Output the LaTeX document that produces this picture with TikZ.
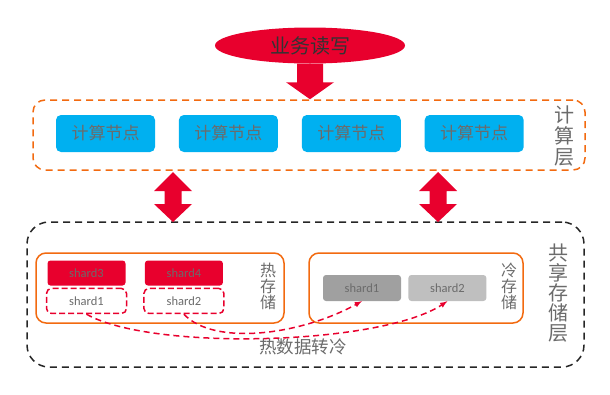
\documentclass[tikz,border=0pt]{standalone}
\usepackage{fontspec}
\setmainfont{Carlito}
\newfontfamily\cjk{Noto Sans CJK SC}
\usepackage{xcolor}
\usepackage{tikz}
\usetikzlibrary{calc,shapes,arrows,positioning}

\definecolor{hotred}{HTML}{E8002D}
\definecolor{skyblue}{HTML}{00B0F0}
\definecolor{layerorange}{HTML}{F26A10}
\definecolor{textgray}{HTML}{6B6B6B}
\definecolor{coldgray}{HTML}{A0A0A0}
\definecolor{lightgray}{HTML}{BFBFBF}

\newcommand{\fatdown}[2]{\fill[hotred] ($(#1)+(-13,0)$) -- ($(#2)+(-13,-17)$) -- ($(#2)+(-24,-17)$) -- (#2) -- ($(#2)+(24,-17)$) -- ($(#2)+(13,-17)$) -- ($(#1)+(13,0)$) -- cycle;}
\newcommand{\fatboth}[2]{\fill[hotred] (#1) -- ($(#1)+(19,19)$) -- ($(#1)+(8.5,19)$) -- ($(#2)+(8.5,-18)$) -- ($(#2)+(19,-18)$) -- (#2) -- ($(#2)+(-19,-18)$) -- ($(#2)+(-8.5,-18)$) -- ($(#1)+(-8.5,19)$) -- ($(#1)+(-19,19)$) -- cycle;}

\begin{document}
\begin{tikzpicture}[x=1pt, y=-1pt,
			request/.style={fill=hotred, ellipse, inner sep=0pt, minimum width=190pt, minimum height=36pt, text=black!80, font=\cjk\fontsize{20}{20}\selectfont},
			layer/.style={draw, dashed, line width=1.5pt, dash pattern=on 7pt off 5pt, inner sep=0pt},
			compute/.style={fill=skyblue, rectangle, rounded corners=5pt, minimum width=99pt, minimum height=37pt, inner sep=0pt, text=textgray, font=\cjk\fontsize{17}{17}\selectfont, node distance={23.5pt}},
			tier/.style={draw=layerorange, line width=1.5pt, rectangle, rounded corners=10pt, minimum height=70pt, inner sep=0pt},
			shard/.style={rectangle, rounded corners=3pt, minimum width=78pt, minimum height=25pt, inner sep=0pt, text=textgray, font=\fontsize{12.5}{12.5}\selectfont},
			hotcopy/.style={shard, draw=hotred, line width=1.5pt, dash pattern=on 6pt off 3pt, minimum width=80pt, rounded corners=5pt},
			title/.style={align=center, text=textgray, inner sep=0pt},
			move/.style={draw=hotred, line width=1.5pt, dash pattern=on 6pt off 4pt, >=latex, ->}
			]
			\useasboundingbox (0,0) rectangle (610,394);
			\node [request](rw) at (310,45.5) {业务读写};
			\node [layer, draw=layerorange, rounded corners=12pt, minimum width=552pt, minimum height=70pt](cl) at (309,135) {};
			\node [compute](c1) at (105.5,133.5) {计算节点};
			\node [compute](c2) [right=of c1] {计算节点};
			\node [compute](c3) [right=of c2] {计算节点};
			\node [compute](c4) [right=of c3] {计算节点};
			\node [title, font=\cjk\fontsize{20}{21}\selectfont](cltitle) at (564.5,136) {计\\算\\层};
			\node [layer, draw=black!85, rounded corners=22pt, minimum width=557pt, minimum height=145pt](sl) at (305.5,294.5) {};
			\node [title, font=\cjk\fontsize{20}{20}\selectfont](sltitle) at (558,293) {共\\享\\存\\储\\层};
			\node [tier, minimum width=248pt](hot) at (160,288) {};
			\node [tier, minimum width=214pt](cold) at (416,288) {};
			\node [title, font=\cjk\fontsize{16}{16}\selectfont](hottitle) at (268,286.5) {热\\存\\储};
			\node [title, font=\cjk\fontsize{16}{16}\selectfont](coldtitle) at (509,286.5) {冷\\存\\储};
			\node [shard, fill=hotred](s3) at (86.5,273) {shard3};
			\node [shard, fill=hotred](s4) [right=19pt of s3] {shard4};
			\node [hotcopy](h1) [below=2pt of s3] {shard1};
			\node [hotcopy](h2) [below=2pt of s4] {shard2};
			\node [shard, fill=coldgray, minimum height=26pt](k1) at (362,288) {shard1};
			\node [shard, fill=lightgray, minimum height=26pt](k2) [right=7pt of k1] {shard2};
			\node [title, font=\cjk\fontsize{17.5}{17.5}\selectfont](movetitle) at (303,347) {热数据转冷};
			\coordinate (lt) at (173,172);
			\coordinate (lb) at (173,222);
			\coordinate (rt) at (438,172);
			\coordinate (rb) at (438,222);
			\fatdown{rw.south}{rw.south |- cl.north}
			\fatboth{lt}{lb}
			\fatboth{rt}{rb}
			\draw[move] (h1.south) .. controls +(65,37) and +(-67,44) .. (k2.south);
			\draw[move] (h2.south) .. controls +(30,32) and +(-62,34) .. (k1.south);
		\end{tikzpicture}
\end{document}
